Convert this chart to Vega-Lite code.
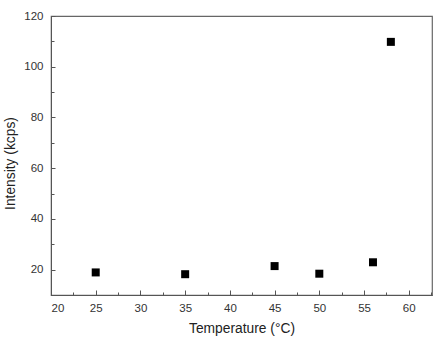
{
  "$schema": "https://vega.github.io/schema/vega-lite/v6.json",
  "autosize": "none",
  "width": 381,
  "height": 279,
  "padding": {"left": 51, "top": 16, "right": 10, "bottom": 42},
  "background": "white",
  "config": {
    "view": {"stroke": "#666", "strokeWidth": 1.2},
    "axis": {"domainColor": "#555", "tickColor": "#555", "labelColor": "#333", "titleColor": "#222", "labelFont": "Liberation Sans", "titleFont": "Liberation Sans", "labelFontSize": 11.5, "titleFontSize": 13.8, "titleFontWeight": "normal", "grid": false}
  },
  "data": {"values": [
    {"t": 25, "i": 18.9},
    {"t": 35, "i": 18.2},
    {"t": 45, "i": 21.4},
    {"t": 50, "i": 18.4},
    {"t": 56, "i": 22.9},
    {"t": 58, "i": 109.8}
  ]},
  "layer": [
    {
      "mark": {"type": "square", "filled": true, "color": "black", "size": 64, "opacity": 1},
      "encoding": {
        "x": {"field": "t", "type": "quantitative", "scale": {"domain": [20, 62.6], "nice": false, "zero": false},
              "axis": {"orient": "bottom", "title": "Temperature (°C)", "values": [20,25,30,35,40,45,50,55,60], "tickSize": -5, "labelPadding": 12, "titlePadding": 8}},
        "y": {"field": "i", "type": "quantitative", "scale": {"domain": [10, 120], "nice": false, "zero": false},
              "axis": {"orient": "left", "title": "Intensity (kcps)", "values": [20,40,60,80,100,120], "tickSize": -4, "labelPadding": 12, "titlePadding": 6, "titleY": 147}}
      }
    },
    {
      "mark": {"type": "point", "opacity": 0},
      "encoding": {
        "x": {"field": "t", "type": "quantitative", "scale": {"domain": [20, 62.6], "nice": false, "zero": false},
              "axis": {"orient": "bottom", "title": null, "labels": false, "domain": false, "values": [22.5,27.5,32.5,37.5,42.5,47.5,52.5,57.5,62.5], "tickSize": -3}},
        "y": {"field": "i", "type": "quantitative", "scale": {"domain": [10, 120], "nice": false, "zero": false},
              "axis": {"orient": "left", "title": null, "labels": false, "domain": false, "values": [10,30,50,70,90,110], "tickSize": -3}}
      }
    }
  ],
  "resolve": {"axis": {"x": "independent", "y": "independent"}}
}
